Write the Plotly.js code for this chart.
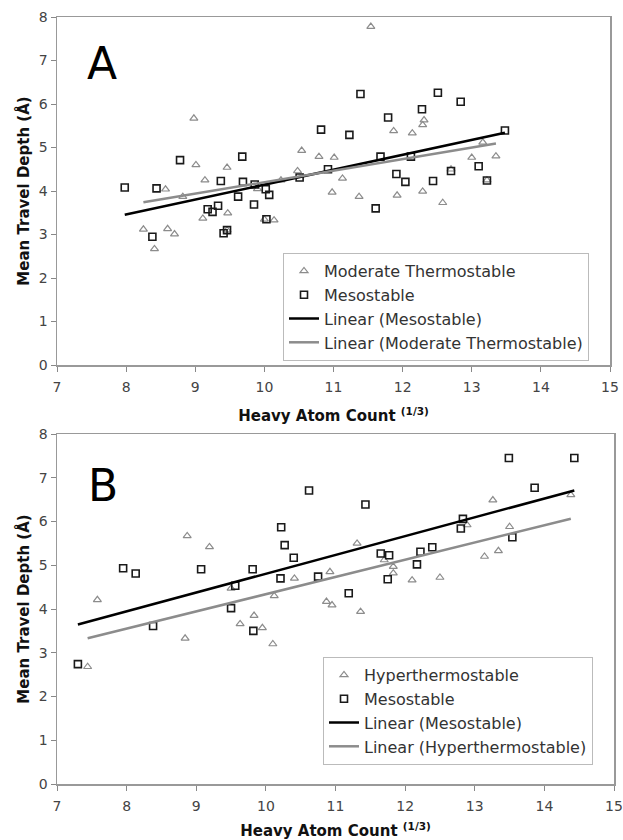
<!DOCTYPE html>
<html>
<head>
<meta charset="utf-8">
<script src="https://cdn.plot.ly/plotly-3.0.1.min.js"></script>
<style>html,body{margin:0;padding:0;background:#fff;}#chart{width:623px;height:840px;}</style>
</head>
<body>
<div id="chart"></div>
<script>
// Panel A data
const xA_mod = [8.25, 8.41, 8.57, 8.60, 8.70, 8.82, 8.98, 9.01, 9.11, 9.14, 9.46, 9.46, 9.47, 9.90, 10.00, 10.14, 10.24, 10.48, 10.54, 10.79, 10.98, 11.01, 11.13, 11.37, 11.54, 11.87, 11.92, 12.14, 12.29, 12.31, 12.29, 12.58, 12.70, 13.00, 13.16, 13.22, 13.35];
const yA_mod = [3.12, 2.67, 4.04, 3.13, 3.01, 3.87, 5.67, 4.60, 3.37, 4.25, 4.54, 3.10, 3.49, 4.05, 3.35, 3.33, 4.25, 4.46, 4.93, 4.79, 3.97, 4.77, 4.29, 3.87, 7.78, 5.38, 3.90, 5.33, 5.52, 5.63, 3.99, 3.73, 4.50, 4.77, 5.12, 4.25, 4.80];
const xA_meso = [7.98, 8.38, 8.44, 8.78, 9.18, 9.25, 9.33, 9.37, 9.41, 9.46, 9.62, 9.68, 9.69, 9.85, 9.86, 10.02, 10.03, 10.07, 10.51, 10.82, 10.92, 11.23, 11.39, 11.61, 11.68, 11.79, 11.91, 12.04, 12.12, 12.28, 12.44, 12.51, 12.70, 12.84, 13.10, 13.22, 13.48];
const yA_meso = [4.08, 2.95, 4.06, 4.71, 3.58, 3.52, 3.66, 4.23, 3.03, 3.10, 3.87, 4.79, 4.21, 3.69, 4.15, 4.04, 3.35, 3.91, 4.31, 5.41, 4.50, 5.29, 6.23, 3.60, 4.79, 5.69, 4.39, 4.21, 4.79, 5.88, 4.23, 6.26, 4.46, 6.05, 4.57, 4.24, 5.39];

// Panel B data
const xB_hyper = [7.44, 7.58, 8.84, 8.87, 9.19, 9.50, 9.63, 9.83, 9.95, 10.10, 10.12, 10.41, 10.87, 10.92, 10.95, 11.31, 11.36, 11.70, 11.83, 11.83, 12.10, 12.50, 12.89, 13.14, 13.26, 13.34, 13.50, 14.38];
const yB_hyper = [2.68, 4.21, 3.33, 5.67, 5.42, 4.47, 3.66, 3.85, 3.57, 3.20, 4.30, 4.70, 4.17, 4.85, 4.09, 5.50, 3.94, 5.12, 4.97, 4.82, 4.66, 4.72, 5.92, 5.20, 6.49, 5.33, 5.88, 6.61];
const xB_meso = [7.30, 7.95, 8.13, 8.38, 9.07, 9.50, 9.56, 9.81, 9.82, 10.21, 10.22, 10.27, 10.40, 10.62, 10.75, 11.19, 11.43, 11.65, 11.75, 11.77, 12.17, 12.22, 12.39, 12.80, 12.83, 13.49, 13.54, 13.86, 14.43];
const yB_meso = [2.74, 4.93, 4.81, 3.61, 4.91, 4.02, 4.53, 4.91, 3.50, 4.70, 5.87, 5.46, 5.17, 6.71, 4.74, 4.36, 6.39, 5.27, 4.68, 5.23, 5.02, 5.31, 5.41, 5.84, 6.06, 7.45, 5.64, 6.77, 7.45];

// Trendline coefficients: [A meso, A moderate, B meso, B hyper]
const trendSlope = [0.343, 0.2647, 0.4298, 0.394];
const trendIntercept = [0.716, 1.556, 0.508, 0.399];

const tickVals = [7, 8, 9, 10, 11, 12, 13, 14, 15];
const yTickVals = [0, 1, 2, 3, 4, 5, 6, 7, 8];

function trend(xs, i) {
  const lo = Math.min(...xs), hi = Math.max(...xs);
  return {x: [lo, hi], y: [trendSlope[i] * lo + trendIntercept[i], trendSlope[i] * hi + trendIntercept[i]]};
}

const triMarker = {symbol: 'triangle-up-open', size: 7, color: '#8c8c8c', line: {width: 1.2, color: '#8c8c8c'}};
const sqMarker = {symbol: 'square-open', size: 7, color: '#1a1a1a', line: {width: 1.6, color: '#1a1a1a'}};

const tA1 = trend(xA_meso, 0), tA2 = trend(xA_mod, 1), tB1 = trend(xB_meso, 2), tB2 = trend(xB_hyper, 3);

const data = [
  {type: 'scatter', mode: 'markers', name: 'Moderate Thermostable', x: xA_mod, y: yA_mod, marker: triMarker, xaxis: 'x', yaxis: 'y', legend: 'legend'},
  {type: 'scatter', mode: 'markers', name: 'Mesostable', x: xA_meso, y: yA_meso, marker: sqMarker, xaxis: 'x', yaxis: 'y', legend: 'legend'},
  {type: 'scatter', mode: 'lines', name: 'Linear (Mesostable)', x: tA1.x, y: tA1.y, line: {color: '#000', width: 2.5}, xaxis: 'x', yaxis: 'y', legend: 'legend'},
  {type: 'scatter', mode: 'lines', name: 'Linear (Moderate Thermostable)', x: tA2.x, y: tA2.y, line: {color: '#8c8c8c', width: 2.5}, xaxis: 'x', yaxis: 'y', legend: 'legend'},
  {type: 'scatter', mode: 'markers', name: 'Hyperthermostable', x: xB_hyper, y: yB_hyper, marker: triMarker, xaxis: 'x2', yaxis: 'y2', legend: 'legend2'},
  {type: 'scatter', mode: 'markers', name: 'Mesostable', x: xB_meso, y: yB_meso, marker: sqMarker, xaxis: 'x2', yaxis: 'y2', legend: 'legend2'},
  {type: 'scatter', mode: 'lines', name: 'Linear (Mesostable)', x: tB1.x, y: tB1.y, line: {color: '#000', width: 2.5}, xaxis: 'x2', yaxis: 'y2', legend: 'legend2'},
  {type: 'scatter', mode: 'lines', name: 'Linear (Hyperthermostable)', x: tB2.x, y: tB2.y, line: {color: '#8c8c8c', width: 2.5}, xaxis: 'x2', yaxis: 'y2', legend: 'legend2'}
];

const tickFont = {family: 'DejaVu Sans, Verdana, sans-serif', size: 14, color: '#444'};
const titleFont = {family: 'DejaVu Sans, Verdana, sans-serif', size: 15, color: '#111', weight: 'bold'};

function xAxis(domain, anchor) {
  return {
    domain: domain, anchor: anchor, range: [7, 15], tickvals: tickVals, ticks: 'outside', ticklen: 5, tickcolor: '#888',
    ticklabelstandoff: 4,
    showgrid: false, zeroline: false, showline: true, linecolor: '#999', linewidth: 1.5, mirror: true,
    tickfont: tickFont,
    title: {text: '<b>Heavy Atom Count <sup>(1/3)</sup></b>', font: titleFont, standoff: 16}
  };
}
function yAxis(domain, anchor) {
  return {
    domain: domain, anchor: anchor, range: [0, 8], tickvals: yTickVals, ticks: 'outside', ticklen: 5, tickcolor: '#888',
    showgrid: false, zeroline: false, showline: true, linecolor: '#999', linewidth: 1.5, mirror: true,
    tickfont: tickFont,
    title: {text: '<b>Mean Travel Depth (Å)</b>', font: titleFont, standoff: 5}
  };
}

const legendStyle = {
  font: {family: 'DejaVu Sans, Verdana, sans-serif', size: 16, color: '#333'},
  bordercolor: '#bbb', borderwidth: 1, bgcolor: '#fff', xanchor: 'left', yanchor: 'top',
  traceorder: 'normal', tracegroupgap: 0
};

const layout = {
  width: 623, height: 840,
  margin: {l: 0, r: 0, t: 0, b: 0},
  paper_bgcolor: '#fff', plot_bgcolor: '#fff',
  showlegend: true,
  xaxis: xAxis([57/623, 610/623], 'y'),
  yaxis: yAxis([1 - 365/840, 1 - 17/840], 'x'),
  xaxis2: xAxis([57/623, 614/623], 'y2'),
  yaxis2: yAxis([1 - 784/840, 1 - 434/840], 'x2'),
  legend: Object.assign({x: 283/623, y: 1 - 253/840}, legendStyle),
  legend2: Object.assign({x: 323/623, y: 1 - 657/840}, legendStyle),
  annotations: [
    {text: 'A', xref: 'x', yref: 'y', x: 7.65, y: 6.94, showarrow: false, font: {family: 'DejaVu Sans, Verdana, sans-serif', size: 44, color: '#000'}},
    {text: 'B', xref: 'x2', yref: 'y2', x: 7.66, y: 6.83, showarrow: false, font: {family: 'DejaVu Sans, Verdana, sans-serif', size: 44, color: '#000'}}
  ]
};

Plotly.newPlot('chart', data, layout, {displayModeBar: false, staticPlot: true});
</script>
</body>
</html>
